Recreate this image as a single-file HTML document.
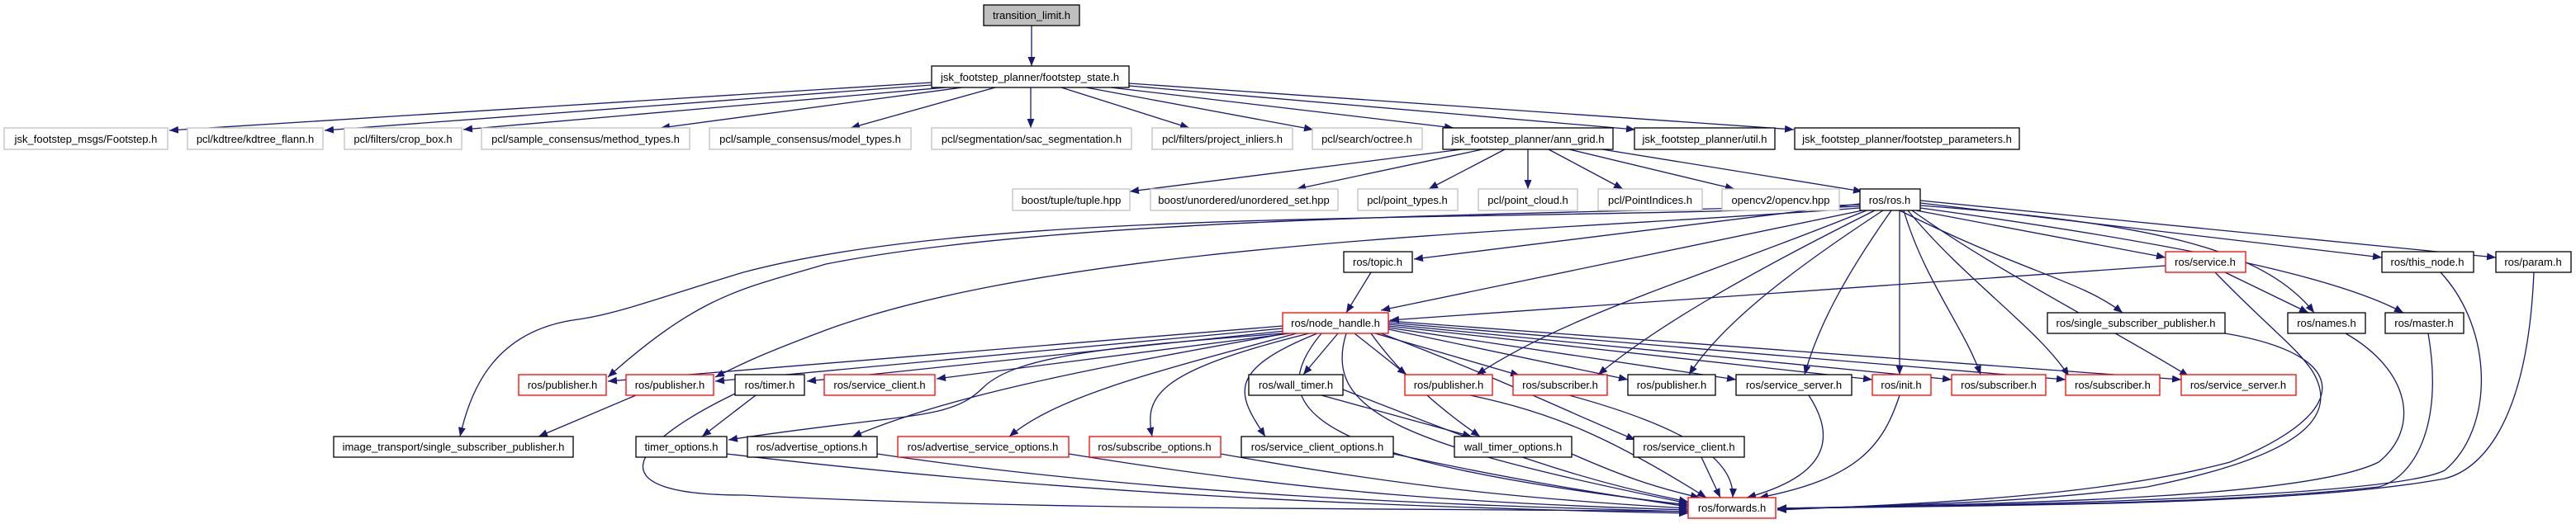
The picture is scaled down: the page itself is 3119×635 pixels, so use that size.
<!DOCTYPE html>
<html><head><meta charset="utf-8"><style>
html,body{margin:0;padding:0;background:#fff;}
svg{display:block;}
text{font-family:"Liberation Sans",sans-serif;font-size:13px;fill:#000;text-anchor:middle;}
.e{fill:none;stroke:#191970;stroke-width:1.3;}
.g{fill:#fff;stroke:#bfbfbf;stroke-width:1.3;}
.b{fill:#fff;stroke:#000;stroke-width:1.3;}
.r{fill:#fff;stroke:#ff0000;stroke-width:1.3;}
</style></head><body>
<svg width="3119" height="635" viewBox="0 0 3119 635" xmlns="http://www.w3.org/2000/svg">
<defs><marker id="a" markerUnits="userSpaceOnUse" markerWidth="12" markerHeight="10" refX="11" refY="4.5" orient="auto"><path d="M0,0 L11,4.5 L0,9 z" fill="#191970"/></marker></defs>
<g class="e" marker-end="url(#a)">
<path d="M1249 31 L1249 80"/>
<path d="M1128 100 L205 158"/>
<path d="M1128 103 L393 158"/>
<path d="M1145 106 L561 157"/>
<path d="M1165 106 L800 155"/>
<path d="M1205 106 L1030 155"/>
<path d="M1248 106 L1248 155"/>
<path d="M1285 106 L1440 155"/>
<path d="M1315 106 L1590 157"/>
<path d="M1345 106 L1760 155"/>
<path d="M1367 104 L1980 157"/>
<path d="M1367 101 L2172 157"/>
<path d="M1770 181 L1368 232"/>
<path d="M1795 181 L1570 229"/>
<path d="M1822 181 L1730 229"/>
<path d="M1850 181 L1850 229"/>
<path d="M1875 181 L1965 229"/>
<path d="M1900 181 L2100 229"/>
<path d="M1940 181 L2255 232"/>
<path d="M2252 247 L1712 314"/>
<path d="M2255 255 L1672 376"/>
<path d="M2320 255 L2622 312"/>
<path d="M2325 246 L2884 312"/>
<path d="M2325 243 L3022 312"/>
<path d="M2325 249 C2600 270 2740 300 2802 379"/>
<path d="M2325 252 C2600 290 2820 330 2910 379"/>
<path d="M2300 255 C2450 330 2520 340 2570 379"/>
<path d="M2252 248 C1900 260 1300 260 1000 320 C900 350 850 355 736 457"/>
<path d="M2252 252 C1900 280 1300 290 1000 400 C920 430 900 440 866 457"/>
<path d="M2252 250 C1800 270 1200 250 900 330 C800 360 750 380 700 387 C600 400 570 470 557 529"/>
<path d="M2260 255 C2050 340 1900 380 1788 454"/>
<path d="M2270 255 C2100 340 2000 400 1935 454"/>
<path d="M2280 255 C2150 340 2080 400 2045 454"/>
<path d="M2290 255 C2230 340 2200 400 2185 454"/>
<path d="M2300 255 C2300 340 2300 400 2300 454"/>
<path d="M2305 255 C2330 340 2380 400 2398 454"/>
<path d="M2310 255 C2380 340 2470 400 2505 456"/>
<path d="M2315 255 C2420 330 2560 400 2650 456"/>
<path d="M1660 330 L1630 379"/>
<path d="M2622 322 L1683 388"/>
<path d="M2694 330 L2795 379"/>
<path d="M1553 395 L736 462"/>
<path d="M1553 398 L866 462"/>
<path d="M1556 401 L977 462"/>
<path d="M1562 404 L1134 459"/>
<path d="M1620 404 L1578 454"/>
<path d="M1640 404 L1703 454"/>
<path d="M1665 404 L1840 455"/>
<path d="M1681 399 L1971 460"/>
<path d="M1681 397 L2102 460"/>
<path d="M1681 395 L2267 460"/>
<path d="M1681 393 L2363 460"/>
<path d="M1681 391 L2501 460"/>
<path d="M1681 389 L2641 460"/>
<path d="M1553 404 C1350 420 1230 430 1190 470 C1150 510 1100 500 882 533"/>
<path d="M1558 404 C1300 450 1150 480 1032 529"/>
<path d="M1570 404 C1400 450 1280 480 1222 529"/>
<path d="M1585 404 C1400 450 1385 480 1395 529"/>
<path d="M1595 404 C1480 450 1500 480 1532 529"/>
<path d="M1660 404 C1700 460 1750 500 1792 529"/>
<path d="M1672 404 C1820 460 1900 500 1980 533"/>
<path d="M1600 404 C1520 500 1600 560 2044 612"/>
<path d="M1630 404 C1600 500 1700 540 2044 610"/>
<path d="M770 479 L652 529"/>
<path d="M915 479 L850 529"/>
<path d="M890 477 C760 540 720 600 900 600 C1300 620 1700 615 2044 620"/>
<path d="M1600 479 L1782 529"/>
<path d="M1626 472 C1800 540 1900 580 2044 608"/>
<path d="M880 550 C1300 600 1700 615 2044 622"/>
<path d="M1062 550 C1400 600 1750 612 2044 620"/>
<path d="M1294 550 C1600 600 1800 610 2044 618"/>
<path d="M1478 550 C1700 590 1850 605 2044 616"/>
<path d="M1687 550 C1850 585 1950 600 2044 614"/>
<path d="M1903 550 C1960 575 2000 590 2058 603"/>
<path d="M1780 479 C1880 500 1950 530 2066 603"/>
<path d="M1900 479 C2050 520 2100 560 2098 603"/>
<path d="M2190 479 C2230 540 2200 580 2115 603"/>
<path d="M2300 479 C2280 540 2250 580 2130 603"/>
<path d="M2060 554 L2083 603"/>
<path d="M2694 404 C2850 430 2850 500 2700 560 C2550 600 2350 610 2152 618"/>
<path d="M2682 330 C2750 400 2780 420 2800 450 C2830 500 2800 550 2600 590 C2450 610 2300 612 2152 617"/>
<path d="M2840 404 C2920 450 2930 520 2880 560 C2800 600 2500 610 2152 616"/>
<path d="M2940 404 C2960 520 2920 580 2880 590 C2700 610 2450 612 2152 616"/>
<path d="M2955 330 C3020 400 3020 520 2960 570 C2900 600 2500 612 2152 616"/>
<path d="M3068 330 C3060 520 3000 570 2960 580 C2800 610 2500 612 2152 616"/>
</g>
<rect x="1191" y="6" width="116" height="25" fill="#bfbfbf" stroke="#000" stroke-width="1.3"/><text x="1249" y="23">transition_limit.h</text>
<rect class="b" x="1128" y="80" width="239" height="26"/><text x="1247" y="98">jsk_footstep_planner/footstep_state.h</text>
<rect class="g" x="5" y="155" width="198" height="26"/><text x="104" y="173">jsk_footstep_msgs/Footstep.h</text>
<rect class="g" x="227" y="155" width="164" height="26"/><text x="309" y="173">pcl/kdtree/kdtree_flann.h</text>
<rect class="g" x="417" y="155" width="142" height="26"/><text x="488" y="173">pcl/filters/crop_box.h</text>
<rect class="g" x="583" y="155" width="252" height="26"/><text x="709" y="173">pcl/sample_consensus/method_types.h</text>
<rect class="g" x="859" y="155" width="244" height="26"/><text x="981" y="173">pcl/sample_consensus/model_types.h</text>
<rect class="g" x="1128" y="155" width="242" height="26"/><text x="1249" y="173">pcl/segmentation/sac_segmentation.h</text>
<rect class="g" x="1395" y="155" width="170" height="26"/><text x="1480" y="173">pcl/filters/project_inliers.h</text>
<rect class="g" x="1589" y="155" width="133" height="26"/><text x="1655" y="173">pcl/search/octree.h</text>
<rect class="b" x="1747" y="155" width="206" height="26"/><text x="1850" y="173">jsk_footstep_planner/ann_grid.h</text>
<rect class="b" x="1979" y="155" width="170" height="26"/><text x="2064" y="173">jsk_footstep_planner/util.h</text>
<rect class="b" x="2173" y="155" width="272" height="26"/><text x="2309" y="173">jsk_footstep_planner/footstep_parameters.h</text>
<rect class="g" x="1226" y="229" width="142" height="26"/><text x="1297" y="247">boost/tuple/tuple.hpp</text>
<rect class="g" x="1393" y="229" width="227" height="26"/><text x="1506" y="247">boost/unordered/unordered_set.hpp</text>
<rect class="g" x="1644" y="229" width="121" height="26"/><text x="1704" y="247">pcl/point_types.h</text>
<rect class="g" x="1790" y="229" width="120" height="26"/><text x="1850" y="247">pcl/point_cloud.h</text>
<rect class="g" x="1935" y="229" width="126" height="26"/><text x="1998" y="247">pcl/PointIndices.h</text>
<rect class="g" x="2085" y="229" width="142" height="26"/><text x="2156" y="247">opencv2/opencv.hpp</text>
<rect class="b" x="2252" y="229" width="73" height="26"/><text x="2288" y="247">ros/ros.h</text>
<rect class="b" x="1627" y="305" width="83" height="25"/><text x="1668" y="322">ros/topic.h</text>
<rect class="r" x="2622" y="305" width="97" height="25"/><text x="2670" y="322">ros/service.h</text>
<rect class="b" x="2884" y="305" width="111" height="25"/><text x="2939" y="322">ros/this_node.h</text>
<rect class="b" x="3022" y="305" width="91" height="25"/><text x="3067" y="322">ros/param.h</text>
<rect class="r" x="1553" y="379" width="128" height="25"/><text x="1617" y="396">ros/node_handle.h</text>
<rect class="b" x="2479" y="379" width="215" height="25"/><text x="2586" y="396">ros/single_subscriber_publisher.h</text>
<rect class="b" x="2770" y="379" width="94" height="25"/><text x="2817" y="396">ros/names.h</text>
<rect class="b" x="2888" y="379" width="95" height="25"/><text x="2935" y="396">ros/master.h</text>
<rect class="r" x="628" y="454" width="106" height="25"/><text x="681" y="471">ros/publisher.h</text>
<rect class="r" x="758" y="454" width="106" height="25"/><text x="811" y="471">ros/publisher.h</text>
<rect class="b" x="890" y="454" width="84" height="25"/><text x="932" y="471">ros/timer.h</text>
<rect class="r" x="998" y="454" width="134" height="25"/><text x="1065" y="471">ros/service_client.h</text>
<rect class="b" x="1512" y="454" width="114" height="25"/><text x="1569" y="471">ros/wall_timer.h</text>
<rect class="r" x="1701" y="454" width="106" height="25"/><text x="1754" y="471">ros/publisher.h</text>
<rect class="r" x="1832" y="454" width="114" height="25"/><text x="1889" y="471">ros/subscriber.h</text>
<rect class="b" x="1971" y="454" width="106" height="25"/><text x="2024" y="471">ros/publisher.h</text>
<rect class="b" x="2102" y="454" width="140" height="25"/><text x="2172" y="471">ros/service_server.h</text>
<rect class="r" x="2267" y="454" width="71" height="25"/><text x="2302" y="471">ros/init.h</text>
<rect class="r" x="2363" y="454" width="114" height="25"/><text x="2420" y="471">ros/subscriber.h</text>
<rect class="r" x="2501" y="454" width="114" height="25"/><text x="2558" y="471">ros/subscriber.h</text>
<rect class="r" x="2641" y="454" width="139" height="25"/><text x="2710" y="471">ros/service_server.h</text>
<rect class="b" x="404" y="529" width="290" height="25"/><text x="549" y="546">image_transport/single_subscriber_publisher.h</text>
<rect class="b" x="770" y="529" width="110" height="25"/><text x="825" y="546">timer_options.h</text>
<rect class="b" x="905" y="529" width="157" height="25"/><text x="983" y="546">ros/advertise_options.h</text>
<rect class="r" x="1087" y="529" width="207" height="25"/><text x="1190" y="546">ros/advertise_service_options.h</text>
<rect class="r" x="1319" y="529" width="159" height="25"/><text x="1398" y="546">ros/subscribe_options.h</text>
<rect class="b" x="1503" y="529" width="184" height="25"/><text x="1595" y="546">ros/service_client_options.h</text>
<rect class="b" x="1761" y="529" width="142" height="25"/><text x="1832" y="546">wall_timer_options.h</text>
<rect class="b" x="1978" y="529" width="134" height="25"/><text x="2045" y="546">ros/service_client.h</text>
<rect class="r" x="2044" y="603" width="106" height="25"/><text x="2097" y="620">ros/forwards.h</text>
</svg>
</body></html>
